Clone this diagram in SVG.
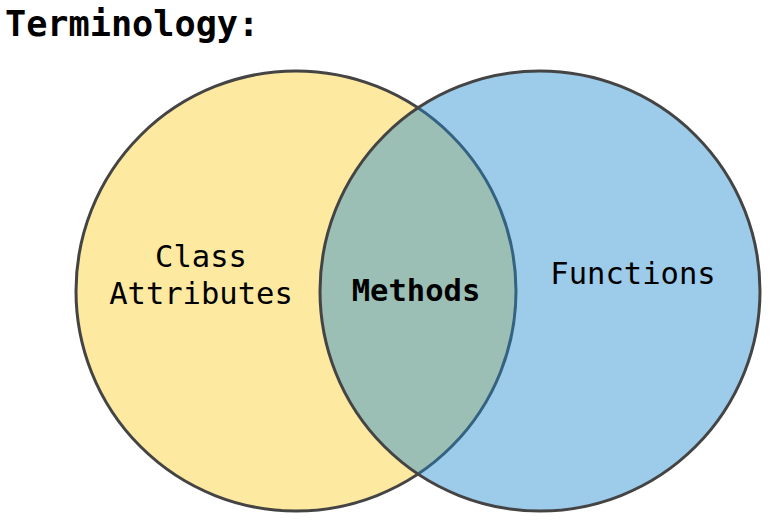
<svg xmlns="http://www.w3.org/2000/svg" width="769" height="522" viewBox="0 0 769 522">
<style>
.t{font-family:"DejaVu Sans Mono","Liberation Mono",monospace;fill:#000}
.c{stroke:#444;stroke-width:3}
</style>
<rect width="769" height="522" fill="#fff"/>
<text class="t" x="5" y="36" font-size="35.2" font-weight="bold">Terminology:</text>
<g id="class-attributes">
<circle class="c" cx="296" cy="291" r="220" fill="#fde9a0"/>
<text class="t" x="201" y="267" font-size="30.5" text-anchor="middle">Class</text>
<text class="t" x="201" y="304" font-size="30.5" text-anchor="middle">Attributes</text>
</g>
<g id="functions">
<circle class="c" cx="540" cy="291" r="220" fill="rgb(32,136,207)" fill-opacity="0.44"/>
<text class="t" x="633" y="284" font-size="30.5" text-anchor="middle">Functions</text>
</g>
<g id="methods">
<text class="t" x="416" y="301" font-size="30.5" font-weight="bold" text-anchor="middle">Methods</text>
</g>
</svg>
